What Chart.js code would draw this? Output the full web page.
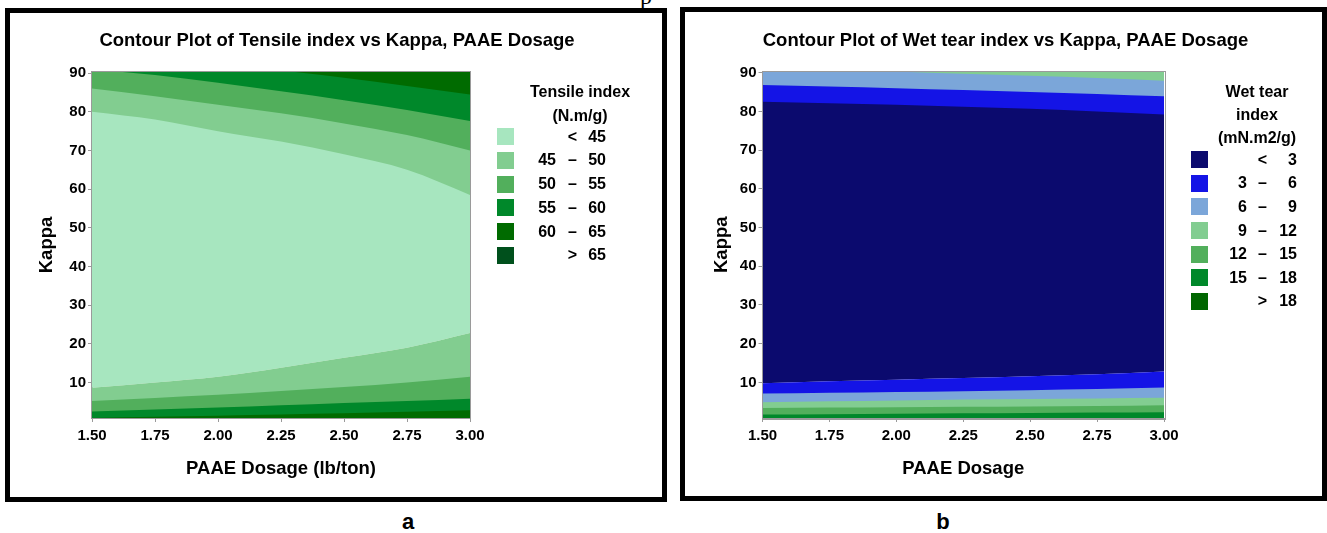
<!DOCTYPE html>
<html>
<head>
<meta charset="utf-8">
<script src="https://cdn.jsdelivr.net/npm/chart.js@4.4.1/dist/chart.umd.min.js"></script>
<style>
  body { margin: 0; width: 1327px; height: 533px; background: #fff; position: relative; overflow: hidden;
         font-family: 'Liberation Sans', Arial, sans-serif; font-weight: bold; color: #000; }
  .panel { position: absolute; border: 5px solid #000; box-sizing: border-box; }
  .t { position: absolute; white-space: nowrap; line-height: 1; }
  .sw { position: absolute; width: 17px; height: 17px; }
  .cut { position: absolute; left: 640px; top: -16px; font: normal 24px 'Liberation Serif', serif; line-height: 1; }
  canvas { position: absolute; top: 0; }
</style>
</head>
<body>
<div class="cut">p</div>
<div class="panel" style="left:5px;top:8px;width:662px;height:494px"></div>
<div class="panel" style="left:680px;top:7px;width:647px;height:494px"></div>
<canvas id="chartA" width="670" height="500" style="left:0"></canvas>
<canvas id="chartB" width="652" height="500" style="left:675px"></canvas>
<div id="texts"></div>
<script>
// x positions of every contour line (PAAE dosage, lb/ton)
const dosage = [1.5, 1.75, 2.0, 2.25, 2.5, 2.75, 3.0];
const kappaTicks = [10, 20, 30, 40, 50, 60, 70, 80, 90];

// Tensile index contour lines (Kappa value at each dosage)
const tensileLow60 = [0.8, 1.1, 1.4, 1.7, 2.0, 2.4, 2.8];
const tensileLow55 = [2.5, 3.0, 3.5, 4.1, 4.7, 5.2, 5.8];
const tensileLow50 = [5.2, 6.0, 6.8, 7.8, 8.8, 10.0, 11.5];
const tensileLow45 = [8.6, 10.0, 11.5, 13.8, 16.4, 19.0, 22.8];
const tensileHigh45 = [80, 78, 75, 72.3, 69, 65, 58.5];
const tensileHigh50 = [86, 84, 81.8, 79.6, 77, 74, 70];
const tensileHigh55 = [91, 89.5, 87.5, 85.3, 83, 80.5, 77.6];
const tensileHigh60 = [96, 94, 92.3, 90.7, 88.8, 86.7, 84.5];

// Wet tear index contour lines
const wetLow15 = [1.7, 1.8, 1.9, 2.0, 2.1, 2.2, 2.3];
const wetLow12 = [3.4, 3.5, 3.6, 3.7, 3.8, 3.9, 4.1];
const wetLow9 = [4.85, 5.1, 5.3, 5.55, 5.7, 5.85, 6.0];
const wetLow6 = [7.1, 7.3, 7.5, 7.7, 8.0, 8.3, 8.7];
const wetLow3 = [9.8, 10.3, 10.7, 11.1, 11.6, 12.1, 12.8];
const wetHigh3 = [82.5, 82.1, 81.7, 81.2, 80.7, 80.0, 79.2];
const wetHigh6 = [86.8, 86.4, 86.0, 85.5, 85.0, 84.5, 83.9];
const wetHigh9 = [91.3, 90.8, 90.3, 89.7, 89.2, 88.6, 87.9];

// legends
const tensileLegendTitle = ['Tensile index', '(N.m/g)'];
const tensileLo = ['', '45', '50', '55', '60', ''];
const tensileSign = ['<', '–', '–', '–', '–', '>'];
const tensileHi = ['45', '50', '55', '60', '65', '65'];
const tensileColors = ['#A7E6BF', '#82CD90', '#52AF5C', '#00882A', '#006B00', '#00501C'];

const wetLegendTitle = ['Wet tear', 'index', '(mN.m2/g)'];
const wetLo = ['', '3', '6', '9', '12', '15', ''];
const wetSign = ['<', '–', '–', '–', '–', '–', '>'];
const wetHi = ['3', '6', '9', '12', '15', '18', '18'];
const wetColors = ['#0B0A6E', '#1414E6', '#7BA6D9', '#82CD91', '#52AF5C', '#00882A', '#006600'];

const FONT = "'Liberation Sans', Arial, sans-serif";

// --- html text helpers ---
const texts = document.getElementById('texts');
function textAt(str, x, y, size, anchor) {
  const d = document.createElement('div');
  d.className = 't';
  d.textContent = str;
  d.style.left = x + 'px';
  d.style.top = y + 'px';
  d.style.fontSize = size + 'px';
  const tx = anchor === 'right' ? '-100%' : anchor === 'left' ? '0' : '-50%';
  d.style.transform = 'translate(' + tx + ',-50%)';
  texts.appendChild(d);
  return d;
}

function legend(cfg) {
  cfg.title.forEach((line, i) => textAt(line, cfg.titleX, cfg.titleY + i * cfg.titleStep, 16, 'center'));
  cfg.colors.forEach((c, i) => {
    const cy = cfg.itemY + i * cfg.itemStep;
    const sw = document.createElement('div');
    sw.className = 'sw';
    sw.style.left = cfg.swX + 'px';
    sw.style.top = (cy - 8.5) + 'px';
    sw.style.background = c;
    texts.appendChild(sw);
    if (cfg.lo[i]) textAt(cfg.lo[i], cfg.loR, cy, 16, 'right');
    textAt(cfg.sign[i], cfg.signR, cy, 16, 'right');
    textAt(cfg.hi[i], cfg.hiR, cy, 16, 'right');
  });
}

// titles and captions
textAt('Contour Plot of Tensile index vs Kappa, PAAE Dosage', 337, 40, 18.5, 'center');
textAt('Contour Plot of Wet tear index vs Kappa, PAAE Dosage', 1005.5, 40, 18.5, 'center');
textAt('a', 408, 522, 22, 'center');
textAt('b', 943, 522, 22, 'center');

legend({ title: tensileLegendTitle, titleX: 580, titleY: 91.5, titleStep: 24,
  colors: tensileColors, lo: tensileLo, sign: tensileSign, hi: tensileHi,
  itemY: 136.7, itemStep: 23.7, swX: 497, loR: 556, signR: 577, hiR: 606 });
legend({ title: wetLegendTitle, titleX: 1257, titleY: 91.5, titleStep: 23.3,
  colors: wetColors, lo: wetLo, sign: wetSign, hi: wetHi,
  itemY: 159.7, itemStep: 23.6, swX: 1190.7, loR: 1247, signR: 1267, hiR: 1297 });

// --- contour bands ---
// each line is filled towards the plot edge; later datasets paint over earlier ones
function line(vals, color, fill, order) {
  return {
    data: dosage.map((x, i) => ({ x, y: vals[i] })),
    backgroundColor: color,
    borderWidth: 0,
    pointRadius: 0,
    cubicInterpolationMode: 'monotone',
    fill,
    order
  };
}

function bandDatasets(midLow, midColor, uppers, upperColors, lowers, lowerColors) {
  const list = [line(midLow, midColor, 'end')];
  uppers.forEach((v, i) => list.push(line(v, upperColors[i], 'end')));
  lowers.forEach((v, i) => list.push(line(v, lowerColors[i], 'start')));
  // first in list is drawn first
  list.forEach((d, i) => { d.order = list.length - i; });
  return list;
}

const framePlugin = {
  id: 'frame',
  afterDraw(chart) {
    const { ctx, chartArea: a } = chart;
    ctx.save();
    ctx.strokeStyle = '#9a9a9a';
    ctx.lineWidth = 1;
    ctx.strokeRect(Math.round(a.left) - 0.5, Math.round(a.top) - 0.5,
      Math.round(a.right - a.left) + 1, Math.round(a.bottom - a.top) + 1);
    ctx.restore();
  }
};

function contourChart(id, datasets, xTitle, pad, yWidth) {
  const tickFont = { family: FONT, size: 15, weight: 'bold' };
  const titleFont = { family: FONT, size: 18.5, weight: 'bold' };
  return new Chart(document.getElementById(id), {
    type: 'line',
    data: { datasets },
    options: {
      responsive: false,
      animation: false,
      events: [],
      layout: { padding: pad },
      plugins: { legend: { display: false }, tooltip: { enabled: false }, title: { display: false } },
      scales: {
        x: {
          type: 'linear', min: 1.5, max: 3.0,
          ticks: { stepSize: 0.25, callback: v => v.toFixed(2), color: '#000', font: tickFont,
                   padding: 5, maxRotation: 0, autoSkip: false },
          grid: { drawOnChartArea: false, tickLength: 4, color: '#9a9a9a' },
          border: { color: '#9a9a9a' },
          title: { display: true, text: xTitle, color: '#000', font: titleFont, padding: { top: 0, bottom: 8 } },
          afterFit: s => { s.height = 70; }
        },
        y: {
          min: 0.8, max: 90.3,
          afterBuildTicks: s => { s.ticks = kappaTicks.map(v => ({ value: v })); },
          ticks: { color: '#000', font: tickFont, padding: 2 },
          grid: { drawOnChartArea: false, tickLength: 4, color: '#9a9a9a' },
          border: { color: '#9a9a9a' },
          title: { display: true, text: 'Kappa', color: '#000', font: titleFont, padding: { top: 6, bottom: 0 } },
          afterFit: s => { s.width = yWidth; }
        }
      }
    },
    plugins: [framePlugin]
  });
}

const tc = tensileColors;
contourChart('chartA',
  bandDatasets(tensileLow45, tc[0],
    [tensileHigh45, tensileHigh50, tensileHigh55, tensileHigh60], [tc[1], tc[2], tc[3], tc[4]],
    [tensileLow45, tensileLow50, tensileLow55, tensileLow60], [tc[1], tc[2], tc[3], tc[4]]),
  'PAAE Dosage (lb/ton)', { left: 30, top: 72, right: 200, bottom: 12 }, 62);

const wc = wetColors;
contourChart('chartB',
  bandDatasets(wetLow3, wc[0],
    [wetHigh3, wetHigh6, wetHigh9], [wc[1], wc[2], wc[3]],
    [wetLow3, wetLow6, wetLow9, wetLow12, wetLow15], [wc[1], wc[2], wc[3], wc[4], wc[5]]),
  'PAAE Dosage', { left: 30, top: 71.5, right: 163, bottom: 12 }, 57.5);
</script>
</body>
</html>
